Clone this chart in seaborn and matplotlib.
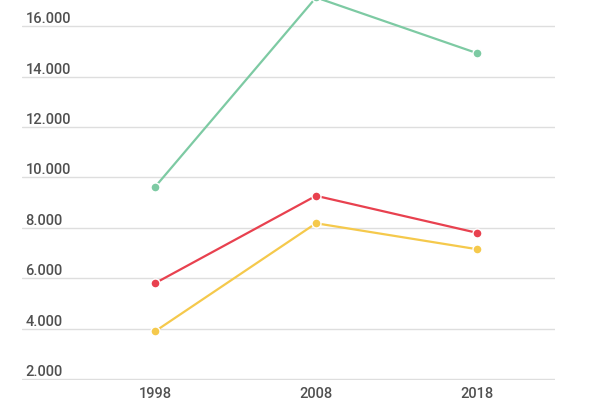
import pandas as pd
import seaborn as sns
import matplotlib.pyplot as plt
from matplotlib.ticker import FuncFormatter

sns.set_theme(style="white")
plt.rcParams["font.family"] = ["Roboto", "DejaVu Sans"]

years = ["1998", "2008", "2018"]
green_vals = [9620, 17140, 14930]
red_vals = [5800, 9270, 7800]
yellow_vals = [3890, 8180, 7150]
series_names = ["Green", "Red", "Yellow"]
colors = ["#7dcaa3", "#e8414f", "#f5c94c"]
yticks = [2000, 4000, 6000, 8000, 10000, 12000, 14000, 16000]

df = pd.DataFrame({
    "year": years * 3,
    "value": green_vals + red_vals + yellow_vals,
    "series": [s for s in series_names for _ in years],
})

fig = plt.figure(figsize=(6, 4), dpi=100)
ax = fig.add_axes([22 / 600, 20 / 400, 533 / 600, 380 / 400])

sns.lineplot(
    data=df, x="year", y="value", hue="series", palette=colors,
    marker="o", markersize=6.5, markeredgecolor="white", markeredgewidth=1,
    linewidth=1.6, legend=False, ax=ax,
)

ax.set_xlim(-0.826, 2.484)
ax.set_ylim(1960, 17040)
ax.set_yticks(yticks)
ax.yaxis.set_major_formatter(FuncFormatter(lambda v, p: f"{int(v):,}".replace(",", ".")))
ax.grid(axis="y", color="#dedede", linewidth=1)
ax.set_axisbelow(True)
for s in ax.spines.values():
    s.set_visible(False)

ax.tick_params(axis="y", length=0, pad=-2.5, labelsize=10.5, labelcolor="#505050")
ax.tick_params(axis="x", length=0, pad=5, labelsize=10.5, labelcolor="#505050")
for lbl in ax.get_yticklabels() + ax.get_xticklabels():
    lbl.set_fontweight("medium")
for lbl in ax.get_yticklabels():
    lbl.set_horizontalalignment("left")
    lbl.set_verticalalignment("bottom")

ax.set_xlabel("")
ax.set_ylabel("")

fig.savefig("out.png", dpi=100)
